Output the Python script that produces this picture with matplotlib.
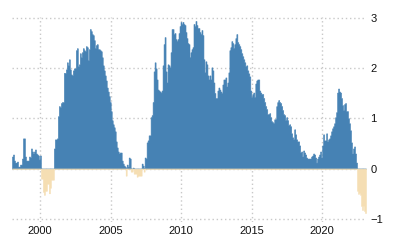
import numpy as np
import pandas as pd
import matplotlib
matplotlib.use("Agg")
import matplotlib.pyplot as plt
import matplotlib.dates as mdates

# values, about 26 days apart, Jan 1998 -> Jan 2023
vals = [
    0.24, 0.28, 0.16, 0.12, 0.12, 0.14, 0.04, 0.04, 0.08, 0.08,
    0.20, 0.60, 0.60, 0.24, 0.16, 0.16, 0.16, 0.24, 0.22, 0.40,
    0.34, 0.30, 0.34, 0.38, 0.30, 0.28, 0.26, 0.18, 0.26, -0.20,
    -0.20, -0.46, -0.52, -0.44, -0.44, -0.30, -0.30, -0.49, -0.38, -0.22,
    -0.22, -0.22, 0.40, 0.58, 0.58, 0.60, 1.04, 1.24, 1.22, 1.30,
    1.32, 1.32, 1.90, 1.90, 1.97, 2.11, 2.05, 2.17,
    1.97, 1.87, 1.85, 1.95, 1.99, 1.99, 2.35, 2.39, 2.03, 2.07,
    2.29, 2.21, 2.31, 2.39, 2.35, 2.33, 2.43, 2.41, 2.15, 2.37,
    2.77, 2.73, 2.67, 2.65, 2.55, 2.39, 2.45, 2.47, 2.37, 2.37,
    2.35, 2.33, 2.21, 2.05, 1.95, 1.85, 1.75, 1.61, 1.53, 1.44,
    1.32, 1.14, 0.96, 0.88, 0.82, 0.74, 0.54, 0.42, 0.34, 0.30,
    0.32, 0.32, 0.16, 0.10, 0.06, 0.04, -0.14, 0.08, 0.04, 0.22,
    0.20, -0.06, -0.06, 0.02, -0.10, -0.10, -0.10, -0.16, -0.14, -0.14,
    -0.14, -0.14, 0.10, 0.06, -0.06, 0.22, 0.20, 0.52, 0.56, 0.66,
    0.66, 1.02, 1.06, 1.32, 1.93, 2.11, 1.99, 1.77, 1.57, 1.55,
    1.53, 1.51, 1.55, 2.05, 2.47, 2.61, 1.93, 1.71, 2.07, 2.05,
    2.01, 2.31, 2.77, 2.77, 2.67, 2.69, 2.57, 2.53, 2.57, 2.69,
    2.83, 2.91, 2.87, 2.91, 2.87, 2.85, 2.71, 2.59, 2.49, 2.47,
    2.21, 2.31, 2.37, 2.41, 2.87, 2.83, 2.93, 2.85, 2.79, 2.79,
    2.71, 2.67, 2.75, 2.65, 2.17, 1.91, 2.13, 2.07, 1.85, 1.77,
    1.85, 1.77, 2.01, 1.95, 1.71, 1.50, 1.40, 1.40, 1.55, 1.61,
    1.57, 1.53, 1.50, 1.67, 1.77, 1.77, 1.81, 1.63, 1.71, 1.91,
    2.35, 2.41, 2.53, 2.49, 2.39, 2.47, 2.59, 2.67, 2.51, 2.47,
    2.43, 2.37, 2.29, 2.23, 2.17, 2.11, 2.03, 2.05, 1.95, 1.89,
    1.83, 1.55, 1.42, 1.48, 1.51, 1.42, 1.69, 1.75, 1.77, 1.77,
    1.55, 1.51, 1.48, 1.48, 1.40, 1.32, 1.24, 1.18, 1.08, 1.08,
    1.10, 1.02, 0.94, 0.92, 0.90, 0.98, 0.98, 1.24, 1.32, 1.36,
    1.32, 1.30, 1.24, 1.16, 1.08, 1.06, 0.96, 1.02, 0.96, 0.86,
    0.88, 0.84, 0.70, 0.62, 0.58, 0.78, 0.68, 0.58, 0.54, 0.54,
    0.46, 0.32, 0.34, 0.24, 0.36, 0.32, 0.28, 0.22, 0.20, 0.20,
    0.20, 0.20, 0.24, 0.26, 0.30, 0.28, 0.22, 0.12, 0.20, 0.24,
    0.28, 0.34, 0.22, 0.46, 0.68, 0.56, 0.56, 0.70, 0.54, 0.58,
    0.60, 0.66, 0.74, 0.80, 0.84, 0.90, 1.02, 1.12, 1.51, 1.59,
    1.53, 1.51, 1.40, 1.26, 1.16, 1.28, 1.30, 1.14, 1.14, 1.00,
    0.90, 0.76, 0.52, 0.30, 0.40, 0.44, 0.30, 0.12, -0.44, -0.50,
    -0.48, -0.52, -0.74, -0.82, -0.74, -0.84, -0.88,
]
dates = pd.date_range("1998-01-01", "2023-01-13", periods=len(vals))
year_ticks = [2000, 2005, 2010, 2015, 2020]
y_ticks = [-1, 0, 1, 2, 3]

v = np.array(vals + [vals[-1]])
d = list(dates) + [dates[-1] + pd.Timedelta(days=26)]

plt.rcParams["font.family"] = ["Liberation Sans", "DejaVu Sans"]

fig = plt.figure(figsize=(4, 2.5), dpi=100)
ax = fig.add_axes([12 / 400, 28 / 250, 354 / 400, 205 / 250])

# positive part blue, negative part wheat
ax.fill_between(d, 0, np.where(v > 0, v, 0), step="post",
                facecolor="#4682b4", edgecolor="#4682b4", lw=0.4, zorder=2)
ax.fill_between(d, 0, np.where(v < 0, v, 0), step="post",
                facecolor="#f5deb3", edgecolor="#f5deb3", lw=0.4, zorder=2)

ax.set_xlim(pd.Timestamp("1998-01-01"), pd.Timestamp("2023-02-08"))
ax.set_ylim(-1.06, 3.01)
ax.set_xticks([pd.Timestamp(f"{y}-01-01") for y in year_ticks])
ax.xaxis.set_major_formatter(mdates.DateFormatter("%Y"))
ax.set_yticks(y_ticks)
ax.yaxis.tick_right()
ax.tick_params(length=0, labelsize=8, colors="#111111")
ax.tick_params(axis="y", pad=3)
ax.tick_params(axis="x", pad=3)

ax.grid(True, color="#c8c8c8", linestyle=(0, (1, 2)), lw=1, zorder=0)
for s in ax.spines.values():
    s.set_visible(False)

fig.savefig("out.png", dpi=100)
